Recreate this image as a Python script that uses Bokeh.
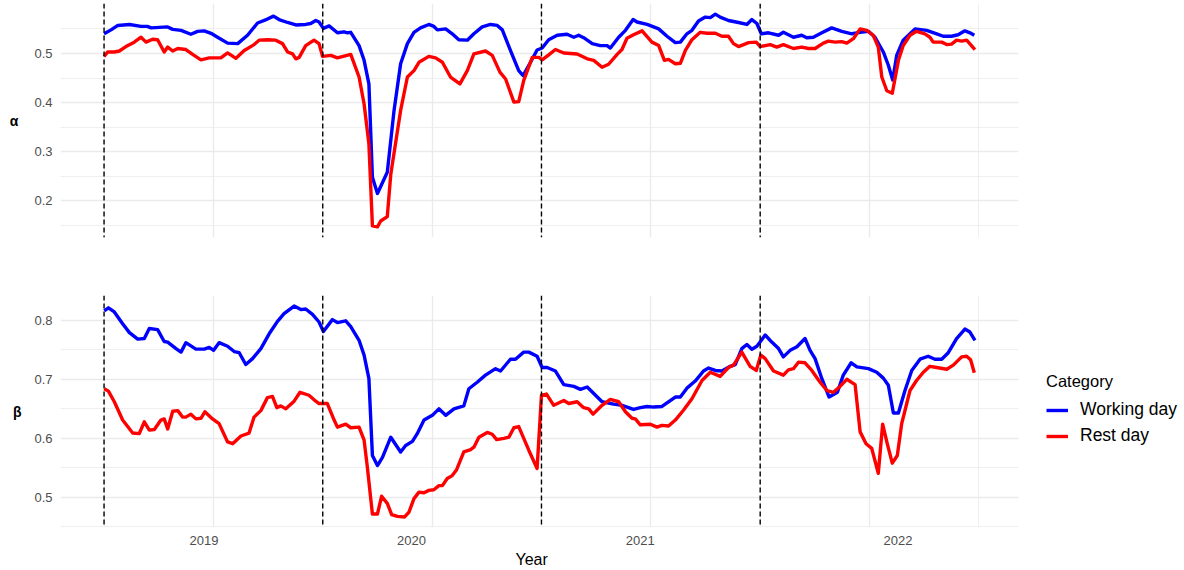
from bokeh.plotting import figure
from bokeh.models import Range1d, FixedTicker, Span, Legend, LegendItem, Title, Grid
from bokeh.layouts import column
from bokeh.embed import file_html
from bokeh.resources import INLINE

FONT = "Liberation Sans"

# ---------------- data (decimal years) ----------------
alpha_work_x = [2018.500, 2018.532, 2018.563, 2018.616, 2018.669, 2018.698, 2018.715, 2018.791, 2018.814, 2018.852,
                2018.897, 2018.928, 2018.958, 2018.989, 2019.019, 2019.065, 2019.111, 2019.156, 2019.202, 2019.247,
                2019.275, 2019.300, 2019.339, 2019.377, 2019.422, 2019.445, 2019.468, 2019.483, 2019.503, 2019.529,
                2019.567, 2019.597, 2019.613, 2019.628, 2019.666, 2019.689, 2019.711, 2019.727, 2019.750, 2019.795,
                2019.826, 2019.856, 2019.887, 2019.917, 2019.947, 2019.985, 2020.008, 2020.024, 2020.062, 2020.092,
                2020.122, 2020.161, 2020.191, 2020.229, 2020.267, 2020.298, 2020.321, 2020.358, 2020.396, 2020.416,
                2020.450, 2020.480, 2020.503, 2020.533, 2020.572, 2020.617, 2020.648, 2020.670, 2020.693, 2020.732,
                2020.769, 2020.800, 2020.815, 2020.853, 2020.884, 2020.919, 2020.937, 2020.983, 2021.036, 2021.074,
                2021.112, 2021.135, 2021.165, 2021.188, 2021.218, 2021.249, 2021.272, 2021.295, 2021.317, 2021.355,
                2021.401, 2021.439, 2021.462, 2021.485, 2021.505, 2021.538, 2021.584, 2021.606, 2021.652, 2021.690,
                2021.713, 2021.743, 2021.782, 2021.827, 2021.873, 2021.919, 2021.957, 2021.995, 2022.025, 2022.063,
                2022.086, 2022.106, 2022.124, 2022.154, 2022.208, 2022.261, 2022.307, 2022.337, 2022.375, 2022.405,
                2022.436, 2022.459, 2022.479]
alpha_work_y = [0.540, 0.548, 0.557, 0.559, 0.555, 0.555, 0.552, 0.554, 0.549, 0.547,
                0.539, 0.545, 0.546, 0.541, 0.533, 0.521, 0.520, 0.537, 0.562, 0.570,
                0.576, 0.569, 0.563, 0.558, 0.559, 0.561, 0.567, 0.564, 0.551, 0.556,
                0.542, 0.544, 0.542, 0.543, 0.516, 0.486, 0.438, 0.248, 0.215, 0.258,
                0.384, 0.479, 0.520, 0.543, 0.552, 0.559, 0.555, 0.548, 0.550, 0.540,
                0.528, 0.527, 0.540, 0.554, 0.559, 0.557, 0.548, 0.506, 0.465, 0.455,
                0.482, 0.507, 0.511, 0.528, 0.537, 0.539, 0.533, 0.537, 0.532, 0.520,
                0.516, 0.516, 0.511, 0.533, 0.547, 0.569, 0.564, 0.559, 0.550, 0.535,
                0.522, 0.523, 0.540, 0.547, 0.566, 0.574, 0.573, 0.580, 0.574, 0.567,
                0.563, 0.559, 0.569, 0.561, 0.540, 0.542, 0.537, 0.543, 0.533, 0.537,
                0.532, 0.533, 0.542, 0.552, 0.545, 0.540, 0.543, 0.545, 0.533, 0.503,
                0.476, 0.446, 0.496, 0.527, 0.550, 0.547, 0.540, 0.535, 0.535, 0.538,
                0.546, 0.542, 0.537]

alpha_rest_x = [2018.500, 2018.517, 2018.547, 2018.570, 2018.600, 2018.638, 2018.669, 2018.692, 2018.722, 2018.745,
                2018.775, 2018.791, 2018.814, 2018.837, 2018.874, 2018.905, 2018.943, 2018.981, 2019.034, 2019.065,
                2019.103, 2019.141, 2019.186, 2019.209, 2019.247, 2019.285, 2019.316, 2019.339, 2019.362, 2019.377,
                2019.392, 2019.422, 2019.460, 2019.483, 2019.499, 2019.537, 2019.567, 2019.628, 2019.666, 2019.689,
                2019.711, 2019.727, 2019.750, 2019.765, 2019.795, 2019.811, 2019.856, 2019.887, 2019.917, 2019.940,
                2019.985, 2020.016, 2020.047, 2020.084, 2020.127, 2020.161, 2020.191, 2020.244, 2020.275, 2020.310,
                2020.336, 2020.374, 2020.396, 2020.419, 2020.458, 2020.488, 2020.503, 2020.533, 2020.564, 2020.602,
                2020.663, 2020.709, 2020.739, 2020.777, 2020.807, 2020.846, 2020.868, 2020.891, 2020.921, 2020.960,
                2021.005, 2021.036, 2021.062, 2021.081, 2021.112, 2021.135, 2021.158, 2021.188, 2021.226, 2021.257,
                2021.295, 2021.325, 2021.355, 2021.378, 2021.401, 2021.447, 2021.482, 2021.500, 2021.546, 2021.576,
                2021.606, 2021.652, 2021.690, 2021.721, 2021.751, 2021.789, 2021.812, 2021.842, 2021.873, 2021.896,
                2021.926, 2021.957, 2021.987, 2022.017, 2022.040, 2022.056, 2022.079, 2022.104, 2022.132, 2022.154,
                2022.185, 2022.215, 2022.253, 2022.276, 2022.291, 2022.330, 2022.353, 2022.375, 2022.398, 2022.421,
                2022.444, 2022.482]
alpha_rest_y = [0.494, 0.503, 0.503, 0.505, 0.514, 0.523, 0.533, 0.523, 0.529, 0.528,
                0.503, 0.513, 0.505, 0.510, 0.508, 0.498, 0.487, 0.491, 0.491, 0.501,
                0.490, 0.506, 0.518, 0.527, 0.528, 0.527, 0.520, 0.503, 0.499, 0.489,
                0.492, 0.516, 0.527, 0.520, 0.494, 0.496, 0.491, 0.498, 0.452, 0.397,
                0.316, 0.149, 0.147, 0.159, 0.168, 0.254, 0.384, 0.452, 0.465, 0.482,
                0.494, 0.491, 0.482, 0.452, 0.438, 0.465, 0.499, 0.505, 0.496, 0.462,
                0.448, 0.401, 0.402, 0.445, 0.492, 0.492, 0.487, 0.497, 0.508, 0.501,
                0.499, 0.489, 0.486, 0.472, 0.478, 0.498, 0.508, 0.531, 0.538, 0.546,
                0.523, 0.516, 0.486, 0.488, 0.479, 0.480, 0.506, 0.528, 0.543, 0.541,
                0.541, 0.535, 0.535, 0.520, 0.514, 0.522, 0.523, 0.514, 0.518, 0.513,
                0.518, 0.510, 0.513, 0.510, 0.510, 0.521, 0.525, 0.523, 0.524, 0.521,
                0.530, 0.550, 0.547, 0.537, 0.513, 0.452, 0.424, 0.419, 0.486, 0.516,
                0.537, 0.545, 0.540, 0.533, 0.523, 0.523, 0.518, 0.519, 0.527, 0.525,
                0.527, 0.508]

beta_work_x = [2018.501, 2018.520, 2018.547, 2018.585, 2018.616, 2018.654, 2018.684, 2018.707, 2018.745, 2018.775,
               2018.791, 2018.829, 2018.852, 2018.874, 2018.920, 2018.958, 2018.981, 2019.001, 2019.026, 2019.065,
               2019.095, 2019.118, 2019.148, 2019.179, 2019.217, 2019.255, 2019.293, 2019.323, 2019.369, 2019.400,
               2019.422, 2019.453, 2019.483, 2019.503, 2019.544, 2019.567, 2019.605, 2019.628, 2019.666, 2019.689,
               2019.711, 2019.727, 2019.750, 2019.773, 2019.811, 2019.856, 2019.879, 2019.910, 2019.932, 2019.963,
               2020.001, 2020.031, 2020.062, 2020.100, 2020.145, 2020.168, 2020.206, 2020.244, 2020.290, 2020.313,
               2020.358, 2020.381, 2020.419, 2020.442, 2020.480, 2020.503, 2020.526, 2020.564, 2020.602, 2020.648,
               2020.678, 2020.709, 2020.739, 2020.777, 2020.830, 2020.868, 2020.921, 2020.952, 2020.983, 2021.013,
               2021.051, 2021.074, 2021.112, 2021.135, 2021.165, 2021.203, 2021.241, 2021.264, 2021.295, 2021.325,
               2021.363, 2021.386, 2021.416, 2021.439, 2021.462, 2021.485, 2021.523, 2021.553, 2021.584, 2021.606,
               2021.637, 2021.668, 2021.705, 2021.728, 2021.751, 2021.782, 2021.815, 2021.853, 2021.880, 2021.916,
               2021.942, 2021.995, 2022.033, 2022.063, 2022.086, 2022.109, 2022.132, 2022.162, 2022.193, 2022.231,
               2022.268, 2022.299, 2022.330, 2022.360, 2022.398, 2022.436, 2022.459, 2022.482]
beta_work_y = [0.816, 0.821, 0.814, 0.794, 0.779, 0.768, 0.769, 0.786, 0.784, 0.764,
               0.763, 0.752, 0.746, 0.762, 0.751, 0.751, 0.754, 0.749, 0.762, 0.756,
               0.747, 0.745, 0.725, 0.735, 0.752, 0.777, 0.798, 0.811, 0.824, 0.818,
               0.819, 0.810, 0.797, 0.781, 0.801, 0.796, 0.799, 0.789, 0.766, 0.741,
               0.701, 0.571, 0.554, 0.568, 0.602, 0.577, 0.588, 0.595, 0.608, 0.631,
               0.639, 0.650, 0.639, 0.650, 0.655, 0.684, 0.695, 0.707, 0.718, 0.714,
               0.734, 0.734, 0.746, 0.746, 0.739, 0.720, 0.720, 0.714, 0.691, 0.688,
               0.683, 0.687, 0.676, 0.662, 0.658, 0.656, 0.649, 0.652, 0.654, 0.653,
               0.654, 0.660, 0.670, 0.670, 0.685, 0.697, 0.714, 0.719, 0.715, 0.714,
               0.722, 0.725, 0.752, 0.759, 0.751, 0.756, 0.775, 0.763, 0.752, 0.738,
               0.749, 0.755, 0.769, 0.749, 0.735, 0.701, 0.670, 0.678, 0.707, 0.728,
               0.721, 0.718, 0.712, 0.702, 0.690, 0.643, 0.643, 0.681, 0.715, 0.734,
               0.739, 0.734, 0.734, 0.745, 0.769, 0.785, 0.780, 0.766]

beta_rest_x = [2018.501, 2018.520, 2018.547, 2018.585, 2018.631, 2018.661, 2018.684, 2018.707, 2018.730, 2018.760,
               2018.775, 2018.791, 2018.814, 2018.837, 2018.859, 2018.874, 2018.897, 2018.920, 2018.943, 2018.961,
               2018.996, 2019.026, 2019.065, 2019.088, 2019.126, 2019.163, 2019.186, 2019.217, 2019.247, 2019.270,
               2019.290, 2019.308, 2019.331, 2019.369, 2019.396, 2019.437, 2019.468, 2019.483, 2019.521, 2019.552,
               2019.567, 2019.605, 2019.628, 2019.666, 2019.689, 2019.704, 2019.727, 2019.750, 2019.769, 2019.795,
               2019.815, 2019.841, 2019.874, 2019.894, 2019.917, 2019.940, 2019.963, 2019.985, 2020.008, 2020.031,
               2020.047, 2020.069, 2020.092, 2020.112, 2020.145, 2020.176, 2020.191, 2020.214, 2020.252, 2020.275,
               2020.295, 2020.328, 2020.351, 2020.374, 2020.396, 2020.442, 2020.480, 2020.500, 2020.523, 2020.556,
               2020.602, 2020.625, 2020.663, 2020.693, 2020.716, 2020.736, 2020.777, 2020.815, 2020.853, 2020.884,
               2020.914, 2020.929, 2020.952, 2020.998, 2021.028, 2021.051, 2021.081, 2021.112, 2021.150, 2021.188,
               2021.234, 2021.272, 2021.317, 2021.355, 2021.378, 2021.416, 2021.454, 2021.482, 2021.503, 2021.523,
               2021.561, 2021.606, 2021.629, 2021.652, 2021.675, 2021.705, 2021.736, 2021.774, 2021.805, 2021.835,
               2021.865, 2021.896, 2021.934, 2021.957, 2021.984, 2022.010, 2022.040, 2022.060, 2022.081, 2022.104,
               2022.127, 2022.147, 2022.185, 2022.215, 2022.246, 2022.276, 2022.307, 2022.353, 2022.383, 2022.421,
               2022.444, 2022.462, 2022.479]
beta_rest_y = [0.684, 0.680, 0.662, 0.631, 0.609, 0.608, 0.628, 0.614, 0.615, 0.631,
               0.633, 0.616, 0.646, 0.647, 0.636, 0.636, 0.641, 0.633, 0.634, 0.645,
               0.633, 0.625, 0.594, 0.591, 0.604, 0.609, 0.636, 0.647, 0.669, 0.671,
               0.652, 0.655, 0.650, 0.663, 0.678, 0.673, 0.663, 0.659, 0.659, 0.631,
               0.619, 0.624, 0.618, 0.619, 0.597, 0.551, 0.472, 0.472, 0.502, 0.490,
               0.471, 0.468, 0.467, 0.475, 0.498, 0.509, 0.508, 0.512, 0.513, 0.520,
               0.520, 0.532, 0.537, 0.547, 0.577, 0.581, 0.585, 0.602, 0.610, 0.607,
               0.598, 0.600, 0.602, 0.618, 0.620, 0.580, 0.549, 0.673, 0.675, 0.656,
               0.664, 0.659, 0.662, 0.652, 0.650, 0.641, 0.656, 0.666, 0.662, 0.645,
               0.634, 0.633, 0.623, 0.624, 0.619, 0.622, 0.621, 0.631, 0.648, 0.667,
               0.698, 0.712, 0.705, 0.720, 0.724, 0.746, 0.722, 0.715, 0.741, 0.735,
               0.714, 0.707, 0.716, 0.718, 0.729, 0.728, 0.715, 0.695, 0.681, 0.678,
               0.688, 0.700, 0.691, 0.611, 0.591, 0.583, 0.541, 0.624, 0.591, 0.558,
               0.571, 0.625, 0.681, 0.698, 0.712, 0.722, 0.720, 0.717, 0.724, 0.738,
               0.739, 0.733, 0.711]

categories = ["Working day", "Rest day"]
colors = ["#0000FF", "#FF0000"]
period_starts = [2018.5, 2019.5, 2020.5, 2021.5]
year_grid = [2019, 2020, 2021, 2022]
half_year_grid = [2018.5, 2019.5, 2020.5, 2021.5, 2022.5]
year_label_pos = [2018.957, 2019.906, 2020.952, 2022.130]
year_labels = ["2019", "2020", "2021", "2022"]
alpha_ticks = [0.2, 0.3, 0.4, 0.5]
alpha_minor = [0.15, 0.25, 0.35, 0.45, 0.55]
beta_ticks = [0.5, 0.6, 0.7, 0.8]
beta_minor = [0.45, 0.55, 0.65, 0.75]

# ---------------- layout constants (pixels) ----------------
W = 1184
LEFT = 60          # space for y tick labels and the α / β titles
PANEL_W = 958      # width of the data panel
FRAME_W = W - LEFT # frame runs to the right edge; the legend sits right of the panel
LINE_W = 3.4


def expanded(vals):
    lo, hi = min(vals), max(vals)
    pad = 0.05 * (hi - lo)
    return lo - pad, hi + pad


px_lo, px_hi = expanded(alpha_work_x + alpha_rest_x + beta_work_x + beta_rest_x)
x_range = Range1d(px_lo, px_lo + (px_hi - px_lo) * FRAME_W / PANEL_W)
top_range = Range1d(*expanded(alpha_work_y + alpha_rest_y))
bot_range = Range1d(*expanded(beta_work_y + beta_rest_y))

HAS_CROSS = "cross_bounds" in Grid.properties()


def style(p, ticks, minor, ylabel, ylabel_standoff):
    p.outline_line_color = None
    p.background_fill_color = "white"
    p.border_fill_color = "white"
    ax = p.yaxis
    ax.ticker = FixedTicker(ticks=ticks, minor_ticks=minor)
    ax.axis_line_color = None
    ax.major_tick_line_color = None
    ax.minor_tick_line_color = None
    ax.major_tick_out = 0
    ax.major_tick_in = 0
    ax.minor_tick_out = 0
    ax.minor_tick_in = 0
    ax.major_label_standoff = 8
    ax.major_label_text_font = FONT
    ax.major_label_text_font_size = "13px"
    ax.major_label_text_color = "#4D4D4D"
    ax.axis_label = ylabel
    ax.axis_label_text_font = FONT
    ax.axis_label_text_font_size = "14px"
    ax.axis_label_text_font_style = "bold"
    ax.axis_label_text_color = "black"
    ax.axis_label_standoff = ylabel_standoff
    if "axis_label_orientation" in p.yaxis[0].properties():
        ax.axis_label_orientation = "horizontal"
    if HAS_CROSS:
        p.ygrid.cross_bounds = (px_lo, px_hi)
        p.ygrid.grid_line_color = "#EBEBEB"
        p.ygrid.grid_line_width = 1.4
        p.ygrid.minor_grid_line_color = "#EBEBEB"
        p.ygrid.minor_grid_line_width = 0.8
    else:
        p.ygrid.visible = False
        p.segment(x0=[px_lo] * len(ticks), x1=[px_hi] * len(ticks), y0=ticks, y1=ticks,
                  line_color="#EBEBEB", line_width=1.4, level="underlay")
        p.segment(x0=[px_lo] * len(minor), x1=[px_hi] * len(minor), y0=minor, y1=minor,
                  line_color="#EBEBEB", line_width=0.8, level="underlay")
    p.xgrid.ticker = FixedTicker(ticks=year_grid, minor_ticks=half_year_grid)
    p.xgrid.grid_line_color = "#EBEBEB"
    p.xgrid.grid_line_width = 1.4
    p.xgrid.minor_grid_line_color = "#EBEBEB"
    p.xgrid.minor_grid_line_width = 0.8
    for v in period_starts:
        p.add_layout(Span(location=v, dimension="height", line_color="black",
                          line_width=1.4, line_dash="5 3"))


# ---------------- top panel (alpha) ----------------
top = figure(width=W, height=262, x_range=x_range, y_range=top_range,
             output_backend="svg", toolbar_location=None,
             min_border_left=LEFT, min_border_right=0, min_border_top=3, min_border_bottom=25)
style(top, alpha_ticks, alpha_minor, "α", 13)
top.xaxis.visible = False
top.line(alpha_work_x, alpha_work_y, line_color=colors[0], line_width=LINE_W, line_join="round")
top.line(alpha_rest_x, alpha_rest_y, line_color=colors[1], line_width=LINE_W, line_join="round")

# ---------------- bottom panel (beta) ----------------
bot = figure(width=W, height=308, x_range=x_range, y_range=bot_range,
             output_backend="svg", toolbar_location=None,
             min_border_left=LEFT, min_border_right=0, min_border_top=33, min_border_bottom=43)
style(bot, beta_ticks, beta_minor, "β", 10)
xa = bot.xaxis
xa.ticker = FixedTicker(ticks=year_label_pos)
xa.major_label_overrides = dict(zip(year_label_pos, year_labels))
xa.axis_line_color = None
xa.major_tick_line_color = None
xa.minor_tick_line_color = None
xa.major_tick_out = 0
xa.major_tick_in = 0
xa.minor_tick_out = 0
xa.minor_tick_in = 0
xa.major_label_standoff = 8
xa.major_label_text_font = FONT
xa.major_label_text_font_size = "13px"
xa.major_label_text_color = "#4D4D4D"

bot.add_layout(Title(text="Year", align="left", offset=455, standoff=2,
                     text_font=FONT, text_font_size="16px", text_font_style="normal",
                     text_color="black"), "below")

r_work = bot.line(beta_work_x, beta_work_y, line_color=colors[0], line_width=LINE_W, line_join="round")
r_rest = bot.line(beta_rest_x, beta_rest_y, line_color=colors[1], line_width=LINE_W, line_join="round")

legend = Legend(items=[LegendItem(label=categories[0], renderers=[r_work]),
                       LegendItem(label=categories[1], renderers=[r_rest])],
                title="Category", location=(986, 78.5),
                border_line_color=None, background_fill_alpha=0,
                padding=0, margin=0, spacing=0,
                glyph_width=22, glyph_height=26, label_height=26, label_standoff=12,
                label_text_font=FONT, label_text_font_size="17.5px", label_text_color="black",
                title_text_font=FONT, title_text_font_size="16.5px", title_text_color="black",
                title_text_font_style="normal", title_standoff=6)
bot.add_layout(legend)

layout = column(top, bot, spacing=0)
open("out.html", "w").write(file_html(layout, INLINE))
